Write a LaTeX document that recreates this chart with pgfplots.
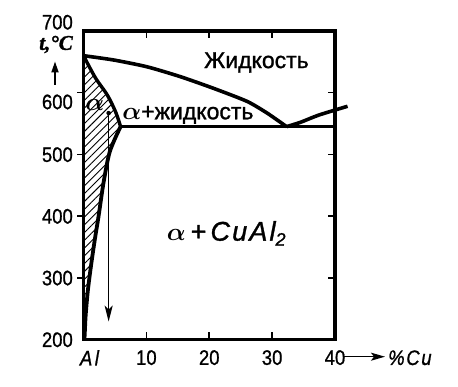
\documentclass[border=0pt]{standalone}
\usepackage{amsmath}
\usepackage{fontspec}
\setmainfont{Liberation Sans}
\newfontfamily\tickfont[FakeStretch=0.88,FakeBold=0.9]{Liberation Sans}
\newfontfamily\labelfont[FakeBold=1.2]{Liberation Sans}
\newfontfamily\serifbi[FakeBold=1.5]{Liberation Serif}
\usepackage{pgfplots}
\pgfplotsset{compat=1.18}
\usetikzlibrary{patterns.meta,arrows.meta}

\begin{document}
\begin{tikzpicture}
\path[use as bounding box] (-83.5pt,-47.5pt) rectangle (374.5pt,339.5pt);
% left outside ticks
\begin{axis}[
  at={(0pt,0pt)}, anchor=south west,
  scale only axis, width=251.5pt, height=308.5pt,
  xmin=0, xmax=40, ymin=200, ymax=700,
  hide x axis, axis y line*=left,
  axis line style={draw=none},
  ytick={300,400,500,600}, yticklabels={},
  ytick pos=left, tick align=outside,
  major tick length=6pt,
  tick style={line width=1.5pt, black},
]
\end{axis}
\begin{axis}[
  at={(0pt,0pt)}, anchor=south west,
  scale only axis, width=251.5pt, height=308.5pt,
  xmin=0, xmax=40, ymin=200, ymax=700,
  clip=false,
  axis line style={line width=3.3pt},
  xtick={0,10,20,30,40},
  xticklabels={\rlap{\kern-3.5pt\itshape A\kern2.5pt l},10,20,30,40},
  ytick={200,300,400,500,600,700},
  yticklabels={200,300,400,500,\raisebox{-9pt}{600},\raisebox{9pt}{700}},
  xtick pos=both, ytick pos=right, yticklabel pos=left,
  tick align=inside,
  major tick length=7pt,
  tick style={line width=1.5pt, black},
  /pgf/number format/assume math mode=true,
  ticklabel style={font=\tickfont\fontsize{21}{21}\selectfont},
  xticklabel style={anchor=north, inner sep=0pt, yshift=-10.5pt},
  yticklabel style={anchor=base east, inner sep=0pt, xshift=-10.5pt, yshift=-7.5pt},
]
% hatched alpha region
\addplot[draw=none, pattern={Lines[angle=45,distance=5.5pt,line width=0.9pt]}]
  coordinates {(0,660) (1.9,624) (3.8,596) (5.1,569) (5.9,545)
               (4.2,505) (3.2,455) (2.4,400) (1.8,362) (1.2,320)
               (0.7,280) (0.35,240) (0.2,210) (0.15,200) (0,200)} -- cycle;
% liquidus
\addplot[line width=3.6pt, smooth, tension=0.4]
  coordinates {(0,660) (4.8,653) (10.1,642) (15.4,626) (20.7,607) (26,586) (29.2,567) (32.3,545)};
\addplot[line width=3.6pt, smooth, tension=0.4]
  coordinates {(32.3,545) (34.5,552) (37.5,564) (42,578)};
% eutectic line
\addplot[line width=3.6pt] coordinates {(5.9,545) (40,545)};
% solidus
\addplot[line width=3.4pt, smooth, tension=0.5]
  coordinates {(0,660) (1.9,624) (3.8,596) (5.1,569) (5.9,545)};
% solvus
\addplot[line width=3.8pt, smooth, tension=0.5]
  coordinates {(5.9,545) (4.2,505) (3.2,455) (2.4,400) (1.8,362) (1.2,320)
               (0.7,280) (0.35,240) (0.2,210) (0.15,200)};
% cooling arrow
\addplot[line width=1.6pt, -{Stealth[length=16pt,width=8pt,inset=4pt]}]
  coordinates {(4,567) (4,229)};
\addplot[only marks, mark=*, mark size=2pt] coordinates {(4,567)};
% labels
\node[font=\labelfont\fontsize{23}{23}\selectfont] at (axis cs:27.5,649) {Жидкость};
\node[font=\labelfont\fontsize{23}{23}\selectfont] at (axis cs:16.6,564) {$\boldsymbol{\alpha}$+жидкость};
\node[font=\labelfont\fontsize{24}{24}\selectfont] at (axis cs:1.8,580) {$\boldsymbol{\alpha}$};
\node[font=\labelfont\fontsize{27}{27}\selectfont\itshape] at (axis cs:22.7,372)
  {$\boldsymbol{\alpha}$\,+\,{\addfontfeature{LetterSpace=8}CuAl}\raisebox{-5pt}{\fontsize{18}{18}\selectfont 2}};
\end{axis}
% axis titles
\node[inner sep=0pt, font=\serifbi\fontsize{21}{21}\selectfont\bfseries\itshape] at (-27.5pt,295pt) {t,°C};
\draw[line width=1.8pt, -{Triangle[length=11pt,width=7pt]}] (-28.5pt,254.5pt) -- (-28.5pt,278pt);
\draw[line width=1.5pt, -{Stealth[length=14pt,width=8pt,inset=3pt]}] (259.5pt,-17.2pt) -- (301.5pt,-17.2pt);
\node[anchor=base west, inner sep=0pt, font=\tickfont\fontsize{21}{21}\selectfont\itshape] at (304.5pt,-25.5pt)
  {{\addfontfeature{LetterSpace=8}\%Cu}};
\end{tikzpicture}
\end{document}
